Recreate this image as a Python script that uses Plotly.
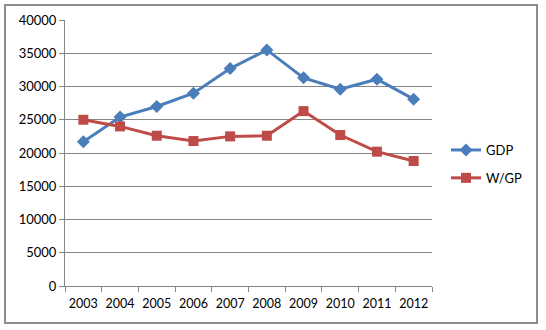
import plotly.graph_objects as go

years = ["2003", "2004", "2005", "2006", "2007", "2008", "2009", "2010", "2011", "2012"]
gdp = [21700, 25400, 27000, 29000, 32700, 35500, 31300, 29600, 31100, 28100]
wgp = [25000, 24000, 22600, 21800, 22500, 22600, 26300, 22700, 20200, 18800]
y_ticks = [0, 5000, 10000, 15000, 20000, 25000, 30000, 35000, 40000]

blue = "#4A7EBB"
red = "#BE4B48"

fig = go.Figure()
fig.add_trace(go.Scatter(x=years, y=gdp, name="GDP", mode="lines+markers",
                         legendgroup="a",
                         line=dict(color=blue, width=3),
                         marker=dict(symbol="diamond", size=10, color=blue)))
fig.add_trace(go.Scatter(x=years, y=wgp, name="W/GP", mode="lines+markers",
                         legendgroup="b",
                         line=dict(color=red, width=3),
                         marker=dict(symbol="square", size=10, color=red)))

L, R, T, B = 65, 114, 20, 44
W, H = 546, 330
pw = W - L - R
ph = H - T - B

def px(x):
    return (x - L) / pw

def py(y):
    return (H - B - y) / ph

fig.update_layout(
    width=W, height=H,
    margin=dict(l=L, r=R, t=T, b=B),
    paper_bgcolor="white", plot_bgcolor="white",
    font=dict(family="Lato, Liberation Sans, sans-serif", size=13, color="#000"),
    showlegend=True,
    legend=dict(x=px(446), y=py(164), xanchor="left", yanchor="middle",
                tracegroupgap=8, font=dict(size=13), bgcolor="rgba(0,0,0,0)"),
    xaxis=dict(type="category", showline=True, linecolor="#868686", linewidth=1,
               ticks="outside", tickson="boundaries", ticklen=5, tickcolor="#868686",
               showgrid=False, range=[-0.5, 9.5], tickangle=0,
               tickfont=dict(size=12.5), ticklabelstandoff=6),
    yaxis=dict(range=[0, 40000], tickvals=y_ticks, showline=True, linecolor="#868686",
               linewidth=1, ticks="outside", ticklen=5, tickcolor="#868686",
               showgrid=True, gridcolor="#868686", gridwidth=1, zeroline=False,
               tickformat="d", ticksuffix="  "),
    shapes=[dict(type="rect", xref="paper", yref="paper",
                 x0=px(5), x1=px(537), y0=py(323), y1=py(5),
                 line=dict(color="#8C8C8C", width=2), fillcolor="rgba(0,0,0,0)",
                 layer="below")],
)

fig.write_html("out.html", config={"displayModeBar": False},
               post_script="document.body.style.margin='0';")
